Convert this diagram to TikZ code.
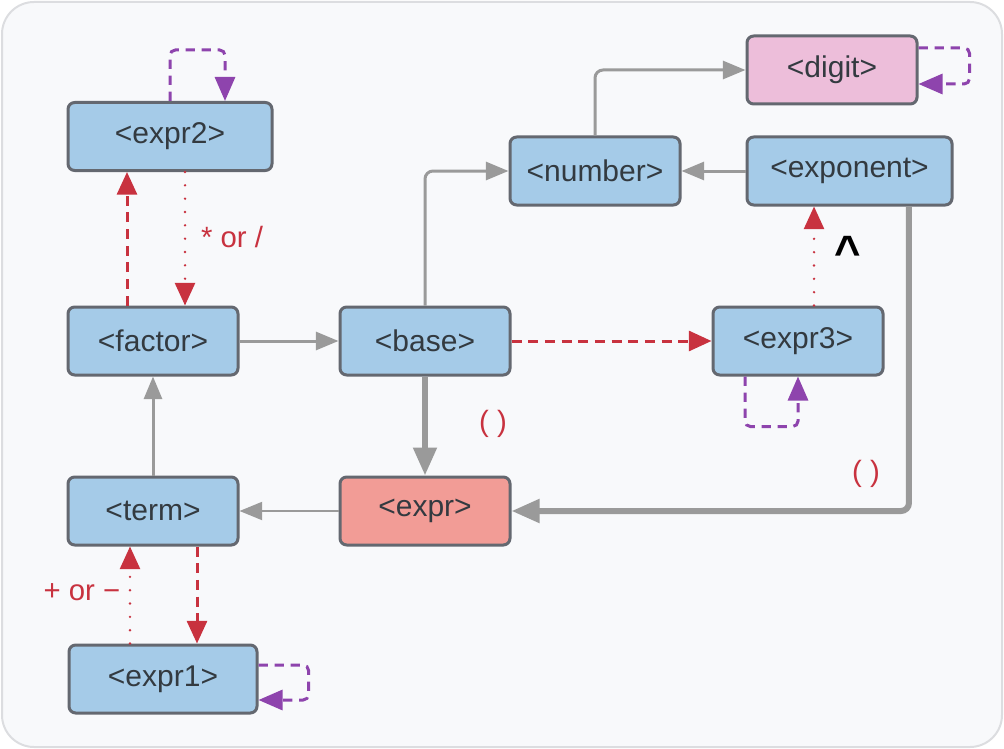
\documentclass[tikz,border=0pt]{standalone}
\usepackage{fontspec}
\setmainfont{Liberation Sans}
\usetikzlibrary{arrows.meta}

\definecolor{bgfill}{HTML}{F8F9FB}
\definecolor{bgline}{HTML}{DCDDE0}
\definecolor{boxblue}{HTML}{A5CBE8}
\definecolor{boxpink}{HTML}{EDBEDA}
\definecolor{boxsalmon}{HTML}{F29C96}
\definecolor{boxline}{HTML}{646870}
\definecolor{txt}{HTML}{333A40}
\definecolor{flowgray}{HTML}{9A9A9A}
\definecolor{opred}{HTML}{C8323F}
\definecolor{looppurple}{HTML}{8E44AD}

\begin{document}
\begin{tikzpicture}[x=0.75pt,y=-0.75pt,
    box/.style={draw=boxline,line width=2.25pt,rounded corners=5pt,
      fill=boxblue,minimum width=127.5pt,minimum height=51pt,inner sep=0pt,
      text=txt,font=\fontsize{22.5}{26}\selectfont},
    flow/.style={draw=flowgray,line width=2.25pt,rounded corners=6pt,
      -{Triangle[length=17pt,width=13.5pt]}},
    bigflow/.style={flow,line width=4.5pt,
      -{Triangle[length=21pt,width=17pt]}},
    opdash/.style={draw=opred,line width=2.25pt,dash pattern=on 7.5pt off 5pt,
      -{Triangle[length=17pt,width=15pt]}},
    opdot/.style={draw=opred,line width=2pt,line cap=round,
      dash pattern=on 0pt off 10pt,-{Triangle[length=17pt,width=15pt]}},
    selfloop/.style={draw=looppurple,line width=2.25pt,rounded corners=4pt,
      dash pattern=on 7pt off 5pt,-{Triangle[length=18pt,width=15pt]}},
    oplabel/.style={text=opred,font=\fontsize{22}{26}\selectfont}]

    \useasboundingbox (0,0) rectangle (1004,749);
    \draw[fill=bgfill,draw=bgline,line width=1.5pt,rounded corners=24pt]
    (2,2) rectangle (1002,747);

    \node[box,minimum width=153pt] (expr2) at (170,136.5) {<expr2>};
    \node[box,fill=boxpink] (digit) at (832,70) {<digit>};
    \node[box] (number) at (595,171) {<number>};
    \node[box,minimum width=153.75pt] (exponent) at (849.5,171) {<exponent>};
    \node[box] (factor) at (153,341) {<factor>};
    \node[box] (base) at (425,341) {<base>};
    \node[box] (expr3) at (798,341) {<expr3>};
    \node[box] (term) at (153,511) {<term>};
    \node[box,fill=boxsalmon] (expr) at (425,511) {<expr>};
    \node[box,minimum width=141pt] (expr1) at (163,679) {<expr1>};

    % grey flow
    \draw[flow] (factor.east) -- (base.west);
    \draw[flow] (term.north) -- (factor.south);
    \draw[flow,line width=1.5pt] (expr.west) -- (term.east);
    \draw[flow] (base.north) |- (number.west);
    \draw[flow] (number.north) |- (digit.west);
    \draw[flow] (exponent.west) -- (number.east);
    \draw[bigflow] (base.south) -- (expr.north);
    \draw[bigflow] ([xshift=44.6pt]exponent.south) |- (expr.east);

    % operators
    \draw[opdash] ([xshift=-19.5pt]factor.north) -- ([xshift=-32.25pt]expr2.south);
    \draw[opdot] ([xshift=11.25pt]expr2.south) -- ([xshift=24pt]factor.north);
    \draw[opdash] (base.east) -- (expr3.west);
    \draw[opdot] ([xshift=12pt]expr3.north) -- ([xshift=-26.6pt]exponent.south);
    \draw[opdash] ([xshift=33pt]term.south) -- ([xshift=25.5pt]expr1.north);
    \draw[opdot] ([xshift=-24.75pt]expr1.north) -- ([xshift=-17.25pt]term.south);

    % self loops
    \draw[selfloop] (expr2.north) -- ++(0,-51) -| ([xshift=41.25pt]expr2.north);
    \draw[selfloop] ([xshift=-39.75pt]expr3.south) -- ++(0,50) -| (expr3.south);
    \draw[selfloop] ([yshift=16.5pt]digit.east) -- ++(51,0) |- ([yshift=-10.5pt]digit.east);
    \draw[selfloop] ([yshift=10.5pt]expr1.east) -- ++(50,0) |- ([yshift=-15.75pt]expr1.east);

    \node[oplabel] (muldiv) at (232,237) {* or /};
    \node[oplabel] (addsub) at (82,592) {+ or −};
    \node[oplabel] (paren1) at (493,424) {( )};
    \node[oplabel] (paren2) at (866,474) {( )};
    \node[font=\fontsize{34}{34}\selectfont\bfseries] (power) at (848,252) {\textasciicircum};

  \end{tikzpicture}
\end{document}
